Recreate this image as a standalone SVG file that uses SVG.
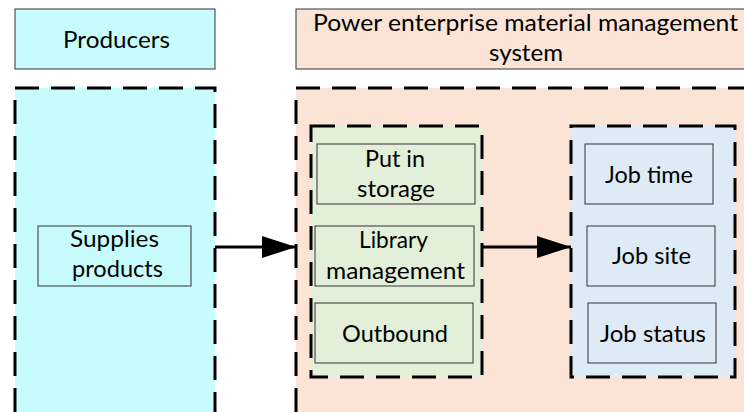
<svg xmlns="http://www.w3.org/2000/svg" width="744" height="412" viewBox="0 0 744 412">
<defs>
<style>
.t{font-family:Lato,"Liberation Sans",sans-serif;font-size:22.5px;fill:#000;text-anchor:start}
.box{stroke:#333;stroke-width:1}
.dash{stroke:#000;stroke-width:3;stroke-dasharray:24 12}
.cyan{fill:#C8FCFC}
.peach{fill:#FBE4D5}
.green{fill:#E2EFD9}
.blue{fill:#DEEAF6}
.conn{stroke:#000;stroke-width:3;fill:none}
</style>
<marker id="ah" markerUnits="userSpaceOnUse" markerWidth="36" markerHeight="24" refX="34" refY="11" orient="auto">
<path d="M0,0 L34,11 L0,22 Z" fill="#000"/>
</marker>
</defs>
<rect width="744" height="412" fill="#fff"/>

<g id="producers-title">
<rect class="box cyan" x="15" y="9" width="200" height="60"/>
<text class="t" x="63" y="48" textLength="107" lengthAdjust="spacingAndGlyphs">Producers</text>
</g>

<g id="power-title">
<rect class="box peach" x="296" y="9" width="460" height="60"/>
<text class="t" x="313" y="31" textLength="425" lengthAdjust="spacingAndGlyphs">Power enterprise material management</text>
<text class="t" x="489" y="61" textLength="74" lengthAdjust="spacingAndGlyphs">system</text>
</g>

<g id="producers-area">
<rect class="dash cyan" x="15" y="88" width="200" height="340"/>
</g>

<g id="power-area">
<rect class="dash peach" x="296" y="88" width="470" height="340"/>
</g>

<g id="storage-group">
<rect class="dash green" x="311" y="126" width="171" height="251"/>
</g>

<g id="job-group">
<rect class="dash blue" x="571" y="126" width="164" height="251"/>
</g>

<g id="supplies">
<rect class="box cyan" x="38" y="226" width="153" height="60"/>
<text class="t" x="70" y="247" textLength="89" lengthAdjust="spacingAndGlyphs">Supplies</text>
<text class="t" x="72" y="277" textLength="91" lengthAdjust="spacingAndGlyphs">products</text>
</g>

<g id="put-in-storage">
<rect class="box green" x="317" y="144" width="158" height="60"/>
<text class="t" x="365" y="167" textLength="60" lengthAdjust="spacingAndGlyphs">Put in</text>
<text class="t" x="357" y="197" textLength="78" lengthAdjust="spacingAndGlyphs">storage</text>
</g>

<g id="library-management">
<rect class="box green" x="315" y="226" width="159" height="60"/>
<text class="t" x="359" y="248" textLength="69" lengthAdjust="spacingAndGlyphs">Library</text>
<text class="t" x="326" y="279" textLength="139" lengthAdjust="spacingAndGlyphs">management</text>
</g>

<g id="outbound">
<rect class="box green" x="315" y="303" width="158" height="60"/>
<text class="t" x="342" y="342" textLength="106" lengthAdjust="spacingAndGlyphs">Outbound</text>
</g>

<g id="job-time">
<rect class="box blue" x="585" y="144" width="128" height="60"/>
<text class="t" x="605" y="183" textLength="88" lengthAdjust="spacingAndGlyphs">Job time</text>
</g>

<g id="job-site">
<rect class="box blue" x="587" y="226" width="128" height="60"/>
<text class="t" x="612" y="264" textLength="79" lengthAdjust="spacingAndGlyphs">Job site</text>
</g>

<g id="job-status">
<rect class="box blue" x="588" y="303" width="128" height="60"/>
<text class="t" x="600" y="342" textLength="106" lengthAdjust="spacingAndGlyphs">Job status</text>
</g>

<g id="connectors">
<line class="conn" x1="215" y1="247" x2="296" y2="247" marker-end="url(#ah)"/>
<line class="conn" x1="482" y1="247" x2="571" y2="247" marker-end="url(#ah)"/>
</g>
</svg>
